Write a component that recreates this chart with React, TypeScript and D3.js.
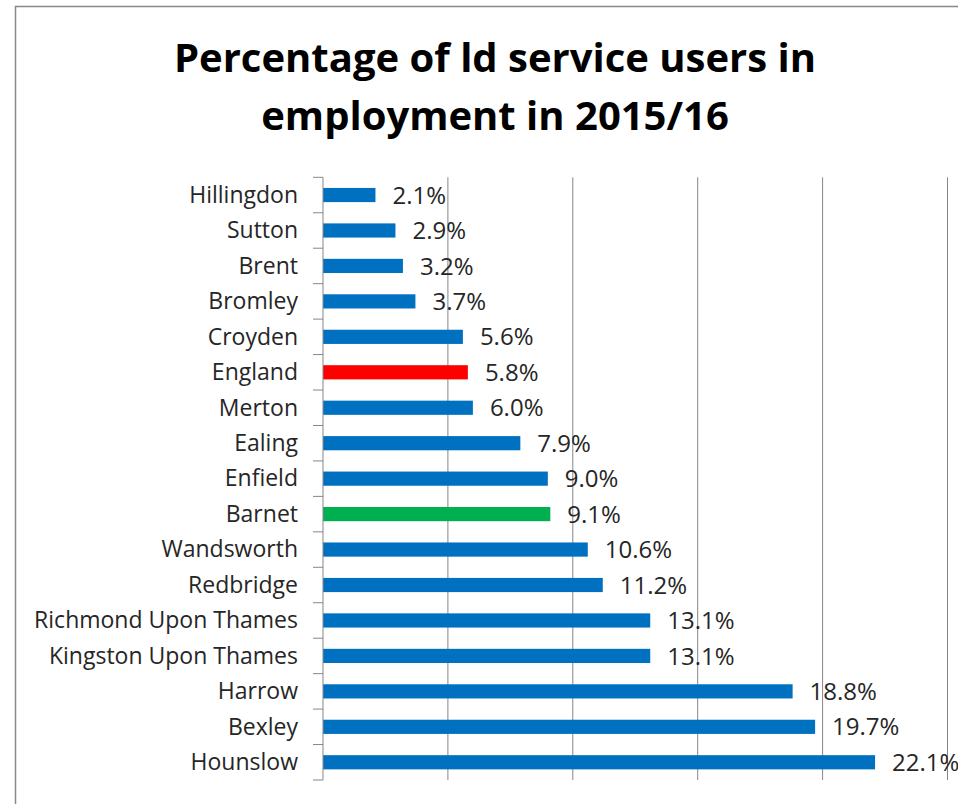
import React from "react";
import * as d3 from "d3";

const categories = [
  "Hillingdon", "Sutton", "Brent", "Bromley", "Croyden", "England", "Merton",
  "Ealing", "Enfield", "Barnet", "Wandsworth", "Redbridge",
  "Richmond Upon Thames", "Kingston Upon Thames", "Harrow", "Bexley", "Hounslow",
];
const values = [2.1, 2.9, 3.2, 3.7, 5.6, 5.8, 6.0, 7.9, 9.0, 9.1, 10.6, 11.2, 13.1, 13.1, 18.8, 19.7, 22.1];
const highlight: Record<string, string> = { England: "#FF0000", Barnet: "#00B050" };
const xTicks = [0, 5, 10, 15, 20, 25];
const titleLines = ["Percentage of ld service users in", "employment in 2015/16"];

const W = 958;
const H = 804;
const FONT = "'Open Sans', Lato, sans-serif";

export default function App() {
  const x = d3.scaleLinear().domain([0, 25]).range([323, 947.5]);
  const y = d3.scaleBand<string>().domain(categories).range([177.3, 780]).paddingInner(0.6).paddingOuter(0.3);
  const top = 177.3;
  const bottom = 780;
  const step = y.step();
  return (
    <svg width={W} height={H} style={{ position: "absolute", left: 0, top: 0 }} fontFamily={FONT}>
      <rect x={0} y={0} width={W} height={H} fill="#fff" />
      <rect x={15.5} y={6.5} width={1200} height={1200} fill="none" stroke="#898989" strokeWidth={1.5} />
      {titleLines.map((t, i) => (
        <text key={i} x={495} y={72 + i * 58} textAnchor="middle" fontSize={40} fontWeight={700} fill="#000">
          {t}
        </text>
      ))}
      {xTicks.slice(1).map((t) => (
        <line key={t} x1={x(t)} x2={x(t)} y1={top} y2={bottom} stroke="#868686" strokeWidth={1} />
      ))}
      {categories.map((c, i) => (
        <rect key={c} x={x(0)} y={y(c)!} width={x(values[i]) - x(0)} height={y.bandwidth()}
          fill={highlight[c] ?? "#0070C0"} />
      ))}
      <line x1={x(0)} x2={x(0)} y1={top} y2={bottom} stroke="#868686" strokeWidth={1} />
      {d3.range(categories.length + 1).map((i) => (
        <line key={i} x1={313} x2={x(0)} y1={top + i * step} y2={top + i * step} stroke="#868686" strokeWidth={1} />
      ))}
      {categories.map((c) => (
        <text key={c} x={298} y={y(c)! + y.bandwidth() / 2} dy="0.34em" textAnchor="end" fontSize={23} fill="#262626">
          {c}
        </text>
      ))}
      {categories.map((c, i) => (
        <text key={c} x={x(values[i]) + 17} y={y(c)! + y.bandwidth() / 2} dy="0.36em" fontSize={24} fill="#262626">
          {values[i].toFixed(1) + "%"}
        </text>
      ))}
    </svg>
  );
}
